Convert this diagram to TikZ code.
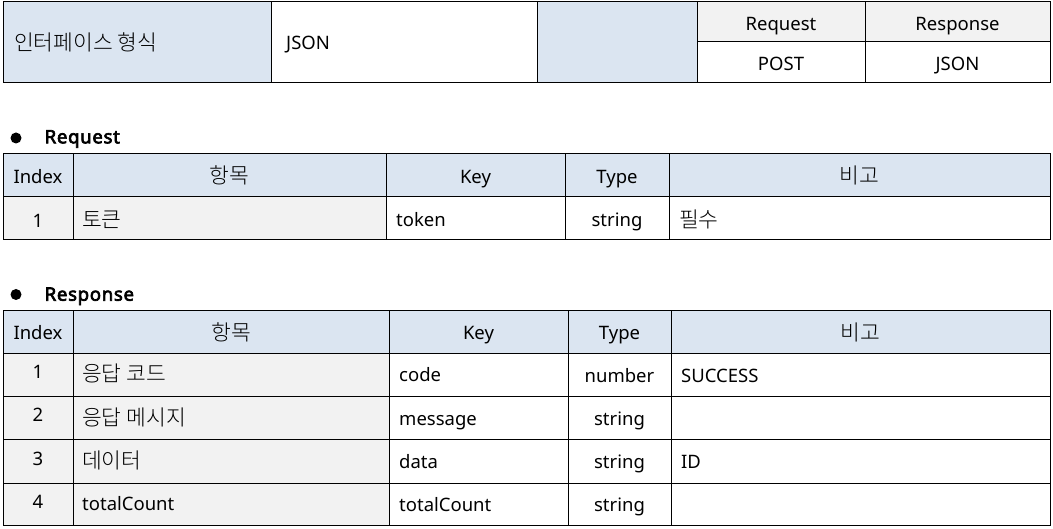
\documentclass[tikz,border=0pt]{standalone}
\usepackage{fontspec}
\setmainfont{Noto Sans}
\newfontfamily\hb{Noto Sans}[FakeBold=3.5,LetterSpace=4]
\newfontfamily\kr{Noto Sans CJK KR Light}
\definecolor{hdr}{HTML}{DBE5F1}
\definecolor{gry}{HTML}{F2F2F2}
\tikzset{
  lt/.style={anchor=base west, inner sep=0pt, font=\fontsize{18.5}{22}\selectfont},
  ct/.style={anchor=base, inner sep=0pt, font=\fontsize{18.5}{22}\selectfont},
  lk/.style={anchor=base west, inner sep=0pt, font=\kr\fontsize{21.5}{25}\selectfont},
  ck/.style={anchor=base, inner sep=0pt, font=\kr\fontsize{21.5}{25}\selectfont},
  heading/.style={anchor=base west, inner sep=0pt, font=\hb\fontsize{18.5}{22}\selectfont},
  grid/.style={draw=black, line width=1pt},
}
\begin{document}
\begin{tikzpicture}[x=1pt,y=-1pt]
\useasboundingbox (0,0) rectangle (1053,529);
% ---------- top table ----------
\fill[hdr] (3,2) rectangle (271,83);
\fill[hdr] (537,2) rectangle (697,83);
\fill[gry] (697,2) rectangle (1050,42);
\draw[grid] (3,2) rectangle (1050,83);
\foreach \x in {271,537,697,865} \draw[grid] (\x,2) -- (\x,83);
\draw[grid] (697,42) -- (1050,42);
\node[lk] (ifmt) at (14,51) {인터페이스 형식};
\node[lt] (ifjson) at (286,50) {JSON};
\node[ct] (reqh) at (781,30.5) {Request};
\node[ct] (resh) at (957.5,30.5) {Response};
\node[ct] (post) at (781,71) {POST};
\node[ct] (resjson) at (957.5,71) {JSON};
% ---------- Request ----------
\fill (16,138) circle (5.5);
\node[heading] (reqtitle) at (44.5,143.3) {Request};
\fill[hdr] (3,154) rectangle (1050,197);
\fill[gry] (3,197) rectangle (386,240);
\draw[grid] (3,154) rectangle (1050,240);
\draw[grid] (3,197) -- (1050,197);
\foreach \x in {73,386,565,669} \draw[grid] (\x,154) -- (\x,240);
\node[ct] (rqh1) at (38,183.3) {Index};
\node[ck] (rqh2) at (229.5,184) {항목};
\node[ct] (rqh3) at (475.5,183.3) {Key};
\node[ct] (rqh4) at (617,183.3) {Type};
\node[ck] (rqh5) at (859.5,184) {비고};
\node[ct] (rq11) at (38,227.3) {1};
\node[lk] (rq12) at (82,228) {토큰};
\node[lt] (rq13) at (396,227) {token};
\node[ct] (rq14) at (617,227) {string};
\node[lk] (rq15) at (679,228) {필수};
% ---------- Response ----------
\fill (16,294.5) circle (5.5);
\node[heading] (restitle) at (44.5,300.7) {Response};
\fill[hdr] (3,311) rectangle (1050,354);
\fill[gry] (3,354) rectangle (389,525);
\draw[grid] (3,311) rectangle (1050,525);
\foreach \y in {354,397,440,483} \draw[grid] (3,\y) -- (1050,\y);
\foreach \x in {73,389,568,671} \draw[grid] (\x,311) -- (\x,525);
\node[ct] (rsh1) at (38,340) {Index};
\node[ck] (rsh2) at (231,341) {항목};
\node[ct] (rsh3) at (478.5,340) {Key};
\node[ct] (rsh4) at (619.5,340) {Type};
\node[ck] (rsh5) at (860.5,341) {비고};
% row 1
\node[ct] (rs11) at (38,379) {1};
\node[lk] (rs12) at (82,382) {응답 코드};
\node[lt] (rs13) at (399,382) {code};
\node[ct] (rs14) at (619.5,382.5) {number};
\node[lt] (rs15) at (681,382.5) {SUCCESS};
% row 2
\node[ct] (rs21) at (38,422) {2};
\node[lk] (rs22) at (82,425) {응답 메시지};
\node[lt] (rs23) at (399,425) {message};
\node[ct] (rs24) at (619.5,425.5) {string};
% row 3
\node[ct] (rs31) at (38,465) {3};
\node[lk] (rs32) at (82,468) {데이터};
\node[lt] (rs33) at (399,468) {data};
\node[ct] (rs34) at (619.5,468.5) {string};
\node[lt] (rs35) at (681,468.5) {ID};
% row 4
\node[ct] (rs41) at (38,508) {4};
\node[lt] (rs42) at (82,510) {totalCount};
\node[lt] (rs43) at (399,511) {totalCount};
\node[ct] (rs44) at (619.5,511.5) {string};
\end{tikzpicture}
\end{document}
